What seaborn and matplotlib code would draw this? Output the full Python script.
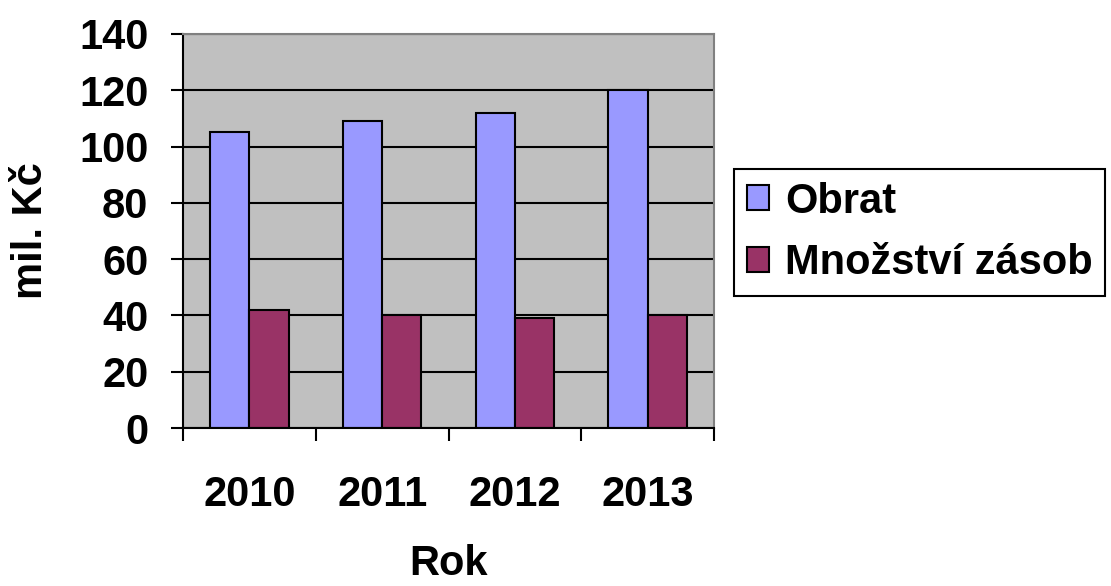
import pandas as pd
import matplotlib.pyplot as plt
import seaborn as sns
import numpy as np

years = ['2010', '2011', '2012', '2013']
obrat = [105, 109, 112, 120]
zasoby = [42, 40, 39, 40]
series_names = ['Obrat', 'Množství zásob']

df = pd.DataFrame({
    'Rok': years * 2,
    'hodnota': obrat + zasoby,
    'serie': [series_names[0]] * 4 + [series_names[1]] * 4,
})

sns.set_style('white')
plt.rcParams['font.family'] = ['Liberation Sans', 'DejaVu Sans']
plt.rcParams['font.weight'] = 'bold'
plt.rcParams['text.color'] = 'black'
plt.rcParams['axes.labelcolor'] = 'black'
plt.rcParams['xtick.color'] = 'black'
plt.rcParams['ytick.color'] = 'black'

fig = plt.figure(figsize=(11.11, 5.86), dpi=100)
ax = fig.add_axes([0.1647, 0.2696, 0.478, 0.6724])
ax.set_facecolor('#C0C0C0')

sns.barplot(data=df, x='Rok', y='hodnota', hue='serie', order=years,
            hue_order=series_names, palette={'Obrat': '#9999FF', 'Množství zásob': '#993366'},
            width=0.593, edgecolor='black', linewidth=1.5, saturation=1, ax=ax)

ax.set_ylim(0, 140)
ax.set_xlim(-0.5, 3.5)
ax.set_yticks(np.arange(0, 141, 20))
ax.yaxis.grid(True, color='black', linewidth=1.5)
ax.set_axisbelow(True)

for side in ['left', 'bottom']:
    ax.spines[side].set_color('black')
    ax.spines[side].set_linewidth(1.5)
for side in ['top', 'right']:
    ax.spines[side].set_color('#808080')
    ax.spines[side].set_linewidth(1.5)

ax.tick_params(axis='y', length=9, width=1.5, pad=16, labelsize=30, left=True)
ax.set_xticks(range(4))
ax.set_xticks(np.arange(-0.5, 3.6, 1), minor=True)
ax.tick_params(axis='x', which='major', length=0, pad=34, labelsize=30)
ax.tick_params(axis='x', which='minor', length=9, width=1.5, bottom=True)
for lab in ax.get_xticklabels() + ax.get_yticklabels():
    lab.set_fontweight('bold')

ax.set_xlabel('Rok', fontsize=30, fontweight='bold', labelpad=21)
ax.set_ylabel('mil. Kč', fontsize=30, fontweight='bold', labelpad=20)

ax.get_legend().remove()
handles, labels = ax.get_legend_handles_labels()
leg = fig.legend(handles, labels, loc='upper left', bbox_to_anchor=(0.6607, 0.7116),
                 frameon=True, fancybox=False, edgecolor='black', framealpha=1,
                 prop={'size': 30, 'weight': 'bold'}, handlelength=0.53, handleheight=0.53,
                 handletextpad=0.4, borderpad=0.3, labelspacing=0.52, borderaxespad=0)
leg.get_frame().set_linewidth(1.5)

fig.savefig('out.png', dpi=100)
